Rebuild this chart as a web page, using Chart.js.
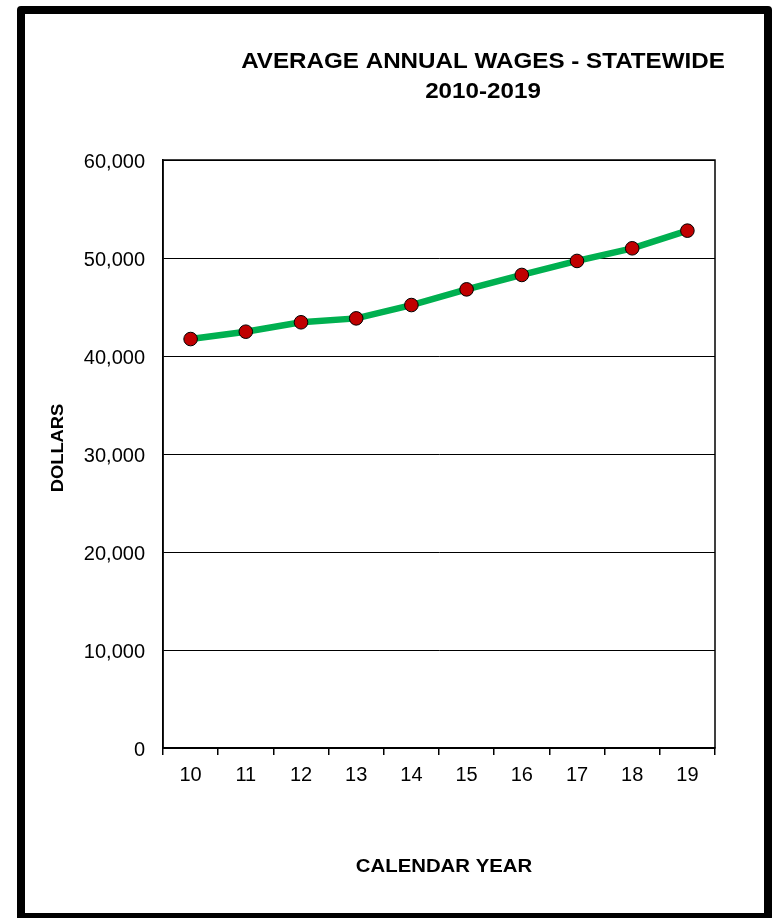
<!DOCTYPE html>
<html>
<head>
<meta charset="utf-8">
<script src="https://cdn.jsdelivr.net/npm/chart.js@4.4.1/dist/chart.umd.min.js"></script>
<style>
  html, body { margin: 0; padding: 0; background: #ffffff; }
  #wrap { width: 772px; height: 918px; }
</style>
</head>
<body>
<div id="wrap"><canvas id="c" width="772" height="918"></canvas></div>
<script>
// ---- data ----
const categories = ['10', '11', '12', '13', '14', '15', '16', '17', '18', '19'];
const wages = [41730, 42480, 43440, 43840, 45200, 46800, 48270, 49700, 50990, 52790];
const titleLines = ['AVERAGE ANNUAL WAGES - STATEWIDE', '2010-2019'];
const xTitle = 'CALENDAR YEAR';
const yTitle = 'DOLLARS';
const yMin = 0, yMax = 60000, yStep = 10000;

const FONT = '"Liberation Sans", Arial, Helvetica, sans-serif';

function stretchedText(ctx, text, x, y, size, sx, rot) {
  ctx.save();
  ctx.translate(x, y);
  if (rot) ctx.rotate(rot);
  ctx.scale(sx, 1);
  ctx.font = 'bold ' + size + 'px ' + FONT;
  ctx.fillStyle = '#000';
  ctx.textAlign = 'center';
  ctx.textBaseline = 'middle';
  ctx.fillText(text, 0, 0);
  ctx.restore();
}

const decor = {
  id: 'decor',
  beforeDraw(chart) {
    const ctx = chart.ctx;
    ctx.save();
    ctx.fillStyle = '#fff';
    ctx.fillRect(0, 0, chart.width, chart.height);
    ctx.restore();
  },
  beforeDatasetsDraw(chart) {
    const ctx = chart.ctx;
    const a = chart.chartArea;
    ctx.save();
    ctx.strokeStyle = '#000';
    ctx.lineWidth = 1.5;
    ctx.strokeRect(a.left, a.top, a.right - a.left, a.bottom - a.top);
    ctx.restore();
  },
  afterDraw(chart) {
    const ctx = chart.ctx;
    // outer frame
    ctx.save();
    ctx.strokeStyle = '#000';
    ctx.lineWidth = 8;
    ctx.lineJoin = 'round';
    ctx.strokeRect(21, 10, 747, 907);
    ctx.restore();
    // titles
    stretchedText(ctx, titleLines[0], 483, 62, 21.5, 1.125, 0);
    stretchedText(ctx, titleLines[1], 483, 92, 21.5, 1.125, 0);
    stretchedText(ctx, xTitle, 444, 867, 18.5, 1.1, 0);
    stretchedText(ctx, yTitle, 58, 448, 17, 1.08, -Math.PI / 2);
  }
};

new Chart(document.getElementById('c'), {
  type: 'line',
  data: {
    labels: categories,
    datasets: [{
      data: wages,
      borderColor: '#00B050',
      borderWidth: 6.5,
      tension: 0,
      pointRadius: 6.8,
      pointHoverRadius: 6.8,
      pointBackgroundColor: '#C00000',
      pointBorderColor: '#000',
      pointBorderWidth: 1,
      fill: false
    }]
  },
  options: {
    responsive: false,
    devicePixelRatio: 1,
    animation: false,
    layout: { padding: { left: 0, right: 57, top: 160, bottom: 0 } },
    plugins: { legend: { display: false }, title: { display: false }, tooltip: { enabled: false } },
    scales: {
      x: {
        offset: true,
        grid: { offset: true, drawOnChartArea: false, drawTicks: true, tickLength: 7, color: '#000', lineWidth: 1.5 },
        border: { display: true, color: '#000', width: 1.5 },
        ticks: { color: '#000', font: { family: FONT, size: 20 }, padding: 8, maxRotation: 0, autoSkip: false },
        afterFit(s) { s.height = 170; }
      },
      y: {
        min: yMin, max: yMax,
        grid: { drawTicks: false, color: '#000', lineWidth: 1 },
        border: { display: true, color: '#000', width: 1.5 },
        ticks: {
          stepSize: yStep, color: '#000', padding: 18, labelOffset: 2,
          font: { family: FONT, size: 20 },
          callback: v => v.toLocaleString('en-US')
        },
        afterFit(s) { s.width = 163; }
      }
    }
  },
  plugins: [decor]
});
</script>
</body>
</html>
